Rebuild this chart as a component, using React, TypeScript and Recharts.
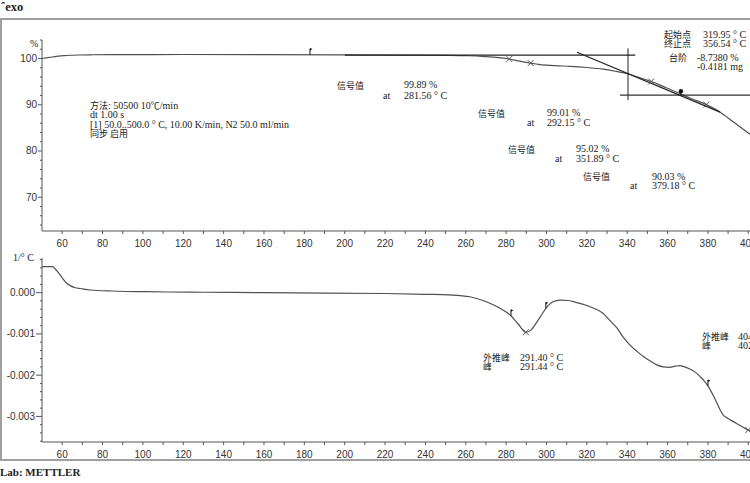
import React from "react";
import { LineChart, Line, XAxis, YAxis, ReferenceLine, ReferenceDot } from "recharts";

// ---------- data ----------
const tgaTemp = [50, 52, 55, 58, 61, 64, 68, 75, 90, 120, 160, 200, 230, 250, 260, 268, 275, 281.56, 286, 292.15, 296, 300, 306, 312, 320, 328, 334, 340, 346, 351.89, 358, 362, 366.6, 372, 379.18, 384, 388, 392, 396, 400.85];
const tgaPct = [100.0, 100.13, 100.32, 100.5, 100.62, 100.7, 100.76, 100.81, 100.85, 100.86, 100.85, 100.8, 100.74, 100.67, 100.6, 100.48, 100.26, 99.89, 99.5, 99.01, 98.72, 98.55, 98.42, 98.3, 98.05, 97.7, 97.25, 96.7, 95.9, 95.02, 93.92, 93.2, 92.3, 91.3, 90.03, 88.95, 87.8, 86.5, 85.2, 83.6];

const dtgTemp = [50, 55.3, 56.5, 58, 59, 60.5, 62, 64, 66.5, 69, 74, 85, 99, 112, 130, 160, 190, 220, 240, 252, 262, 268.5, 273, 277, 282.4, 286, 289.8, 292, 294.3, 297, 299.7, 303.2, 306.7, 311, 315, 321.6, 328, 331.5, 335, 338, 341.4, 345, 348, 351.5, 354.7, 358, 361, 364, 366, 368.5, 371, 373.5, 376, 378, 380, 382.5, 384.5, 386, 387.5, 390, 392.4, 396, 399.4, 400.85];
const dtgRate = [0.00063, 0.00063, 0.00058, 0.00049, 0.00043, 0.00033, 0.00024, 0.00017, 0.00012, 0.0001, 0.000065, 0.00004, 0.000025, 0.000016, 0.00001, 0.0, -0.00001, -0.00002, -0.00004, -0.000056, -0.0001, -0.00019, -0.00028, -0.00038, -0.00056, -0.00076, -0.00096, -0.00092, -0.00078, -0.00058, -0.00038, -0.00022, -0.00018, -0.00019, -0.00024, -0.00034, -0.0005, -0.00068, -0.00086, -0.00108, -0.00127, -0.00143, -0.00155, -0.00166, -0.00175, -0.0018, -0.00181, -0.00178, -0.00177, -0.0018, -0.00185, -0.00192, -0.00203, -0.00213, -0.00226, -0.00248, -0.00268, -0.00284, -0.00296, -0.00305, -0.00312, -0.00322, -0.00332, -0.00335];

const tempTicks = [60, 70, 80, 90, 100, 110, 120, 130, 140, 150, 160, 170, 180, 190, 200, 210, 220, 230, 240, 250, 260, 270, 280, 290, 300, 310, 320, 330, 340, 350, 360, 370, 380, 390, 400];
const tgaTicks = [64, 66, 68, 70, 72, 74, 76, 78, 80, 82, 84, 86, 88, 90, 92, 94, 96, 98, 100, 102, 104];
const tgaTickLabels = [70, 80, 90, 100];
const dtgTicks = [0.0008, 0.0006, 0.0004, 0.0002, 0, -0.0002, -0.0004, -0.0006, -0.0008, -0.001, -0.0012, -0.0014, -0.0016, -0.0018, -0.002, -0.0022, -0.0024, -0.0026, -0.0028, -0.003, -0.0032, -0.0034, -0.0036];
const dtgTickLabels = [0, -0.001, -0.002, -0.003];

// evaluation markers
const tgaCrossT = [281.56, 292.15, 351.89, 379.18];
const tgaCrossV = [99.89, 99.01, 95.02, 90.03];
const tgaFlagT = [182.8];
const tgaFlagV = [100.84];
const dtgFlagT = [282.4, 299.7, 380];
const dtgFlagV = [-0.00056, -0.00038, -0.00226];
const dtgCrossT = [289.8, 400];
const dtgCrossV = [-0.00096, -0.00333];

// step evaluation construction lines (°C, %)
const baseLeft = [{ x: 200.1, y: 100.72 }, { x: 344, y: 100.72 }];
const limitLine = [{ x: 340.4, y: 102.2 }, { x: 340.4, y: 91.0 }];
const baseRight = [{ x: 336.4, y: 92.08 }, { x: 400.85, y: 92.08 }];
const tangentLine = [{ x: 315.1, y: 101.36 }, { x: 386, y: 88.4 }];
const endDotT = 366.6;
const endDotV = 92.08;

const tgaData = tgaTemp.map((t, i) => ({ t, v: tgaPct[i] }));
const dtgData = dtgTemp.map((t, i) => ({ t, v: dtgRate[i] }));

// ---------- styles ----------
const AXIS = "#555";
const CURVE = "#505050";
const TXT = "#222";
const SERIF = "'Liberation Serif', 'Noto Sans CJK SC', serif";
const CJK = "'Noto Sans CJK SC', sans-serif";
const TICKFONT = "'Liberation Sans', sans-serif";

const XTick = (props: any) => {
  const { x, y, payload } = props;
  const v = payload.value;
  return (
    <g>
      <line x1={x} x2={x} y1={y} y2={y + 3} stroke={AXIS} />
      {v % 20 === 0 && (
        <text x={x} y={y + 15.5} textAnchor="middle" fontSize={10} fill="#333" fontFamily={TICKFONT}>
          {v}
        </text>
      )}
    </g>
  );
};

const makeYTick = (labels: number[], fmt: (v: number) => string, len: number, gap: number) => (props: any) => {
  const { x, y, payload } = props;
  const v = payload.value;
  const major = labels.some((l) => Math.abs(l - v) < 1e-9);
  return (
    <g>
      <line x1={x} x2={x - (major ? len : 2)} y1={y} y2={y} stroke={AXIS} />
      {major && (
        <text x={x - gap} y={y + 3.5} textAnchor="end" fontSize={10} fill="#333" fontFamily={TICKFONT}>
          {fmt(v)}
        </text>
      )}
    </g>
  );
};

const TgaYTick = makeYTick(tgaTickLabels, (v) => String(v), 4, 5);
const DtgYTick = makeYTick(dtgTickLabels, (v) => (Math.abs(v) < 1e-12 ? "0.000" : v.toFixed(3)), 6, 7);

const Flag = (p: any) => {
  const { cx, cy } = p;
  return (
    <g>
      <line x1={cx} x2={cx} y1={cy} y2={cy - 6} stroke="#111" strokeWidth={1} />
      <polygon points={`${cx},${cy - 6.5} ${cx + 2.5},${cy - 5.5} ${cx},${cy - 4}`} fill="#111" />
    </g>
  );
};

const Cross = (p: any) => {
  const { cx, cy } = p;
  return (
    <g stroke="#555" strokeWidth={1}>
      <line x1={cx - 3} y1={cy - 3} x2={cx + 3} y2={cy + 3} />
      <line x1={cx - 3} y1={cy + 3} x2={cx + 3} y2={cy - 3} />
    </g>
  );
};

const EndDot = (p: any) => {
  const { cx, cy } = p;
  return (
    <g>
      <line x1={cx} x2={cx} y1={cy} y2={cy - 3} stroke="#111" />
      <circle cx={cx} cy={cy - 4} r={2.2} fill="#111" />
    </g>
  );
};

const T = (p: { x: number; y: number; children: React.ReactNode; cjk?: boolean; bold?: boolean; size?: number }) => (
  <text
    x={p.x}
    y={p.y}
    fontSize={p.size ?? (p.cjk ? 9 : 10)}
    fontFamily={p.cjk ? CJK : SERIF}
    fontWeight={p.bold ? "bold" : "normal"}
    fill={TXT}
  >
    {p.children}
  </text>
);

export default function App() {
  return (
    <div style={{ position: "absolute", left: 0, top: 0, width: 750, height: 483, overflow: "hidden", background: "#fff" }}>
      <div
        style={{
          position: "absolute",
          left: 0,
          top: 18,
          width: 770,
          height: 443,
          border: "2px solid #a0a0a0",
          borderRight: "none",
          boxSizing: "border-box",
        }}
      />
      <div style={{ position: "absolute", left: 0, top: 0 }}>
        <LineChart width={750} height={250} data={tgaData} margin={{ top: 40, right: 0, bottom: 0, left: 0 }}>
          <XAxis
            dataKey="t"
            type="number"
            domain={[50, 400.85]}
            allowDataOverflow
            ticks={tempTicks}
            interval={0}
            tick={XTick}
            tickLine={false}
            tickSize={0}
            tickMargin={0}
            height={19}
            axisLine={{ stroke: AXIS }}
          />
          <YAxis
            type="number"
            domain={[62.7, 104]}
            allowDataOverflow
            ticks={tgaTicks}
            interval={0}
            tick={TgaYTick}
            tickLine={false}
            tickSize={0}
            tickMargin={0}
            width={42}
            axisLine={{ stroke: AXIS }}
          />
          <Line dataKey="v" type="monotone" dot={false} stroke={CURVE} strokeWidth={1.2} isAnimationActive={false} />
          <ReferenceLine segment={baseLeft} stroke="#222" strokeWidth={1.2} />
          <ReferenceLine segment={limitLine} stroke="#222" strokeWidth={1} />
          <ReferenceLine segment={baseRight} stroke="#333" strokeWidth={1.2} />
          <ReferenceLine segment={tangentLine} stroke="#222" strokeWidth={1.2} />
          {tgaCrossT.map((t, i) => (
            <ReferenceDot key={"c" + i} x={t} y={tgaCrossV[i]} r={3} shape={Cross} />
          ))}
          {tgaFlagT.map((t, i) => (
            <ReferenceDot key={"f" + i} x={t} y={tgaFlagV[i]} r={3} shape={Flag} />
          ))}
          <ReferenceDot x={endDotT} y={endDotV} r={3} shape={EndDot} />
        </LineChart>
      </div>
      <div style={{ position: "absolute", left: 0, top: 245 }}>
        <LineChart width={750} height={215} data={dtgData} margin={{ top: 13, right: 0, bottom: 0, left: 0 }}>
          <XAxis
            dataKey="t"
            type="number"
            domain={[50, 400.85]}
            allowDataOverflow
            ticks={tempTicks}
            interval={0}
            tick={XTick}
            tickLine={false}
            tickSize={0}
            tickMargin={0}
            height={18}
            axisLine={{ stroke: AXIS }}
          />
          <YAxis
            type="number"
            domain={[-0.00362, 0.00084]}
            allowDataOverflow
            ticks={dtgTicks}
            interval={0}
            tick={DtgYTick}
            tickLine={false}
            tickSize={0}
            tickMargin={0}
            width={42}
            axisLine={{ stroke: AXIS }}
          />
          <Line dataKey="v" type="monotone" dot={false} stroke={CURVE} strokeWidth={1.2} isAnimationActive={false} />
          {dtgFlagT.map((t, i) => (
            <ReferenceDot key={"f" + i} x={t} y={dtgFlagV[i]} r={3} shape={Flag} />
          ))}
          {dtgCrossT.map((t, i) => (
            <ReferenceDot key={"c" + i} x={t} y={dtgCrossV[i]} r={3} shape={Cross} />
          ))}
        </LineChart>
      </div>
      <svg width={750} height={483} style={{ position: "absolute", left: 0, top: 0, pointerEvents: "none" }}>
        <T x={1} y={11} bold size={12.5}>ˆexo</T>
        <T x={30} y={46.5} size={10}>%</T>
        <text x={90} y={108.5} fontSize={10} fontFamily={SERIF} fill={TXT}>
          <tspan fontFamily={CJK} fontSize={9}>方法</tspan>: 50500 10<tspan fontFamily={CJK} fontSize={9}>℃</tspan>/min
        </text>
        <T x={90} y={118}>dt 1.00 s</T>
        <T x={90} y={127.5}>[1] 50.0..500.0 ° C, 10.00 K/min, N2 50.0 ml/min</T>
        <T x={90} y={137} cjk>同步 启用</T>

        <T x={337} y={88.5} cjk>信号值</T>
        <T x={404} y={88}>99.89 %</T>
        <T x={383} y={98.5}>at</T>
        <T x={404} y={98.5}>281.56 ° C</T>

        <T x={478} y={116.5} cjk>信号值</T>
        <T x={547} y={116}>99.01 %</T>
        <T x={527} y={126}>at</T>
        <T x={547} y={126}>292.15 ° C</T>

        <T x={508} y={152.5} cjk>信号值</T>
        <T x={576} y={152}>95.02 %</T>
        <T x={555} y={162}>at</T>
        <T x={576} y={162}>351.89 ° C</T>

        <T x={583} y={180} cjk>信号值</T>
        <T x={652} y={179.5}>90.03 %</T>
        <T x={630} y={189}>at</T>
        <T x={652} y={189}>379.18 ° C</T>

        <T x={664} y={37.5} cjk>起始点</T>
        <T x={703} y={37.5}>319.95 ° C</T>
        <T x={664} y={46.5} cjk>终止点</T>
        <T x={703} y={46.5}>356.54 ° C</T>
        <T x={669} y={60.5} cjk>台阶</T>
        <T x={697} y={60.5}>-8.7380 %</T>
        <T x={697} y={69.5}>-0.4181 mg</T>

        <T x={13} y={261} size={10}>1/° C</T>

        <T x={483} y={360.5} cjk>外推峰</T>
        <T x={520} y={360.5}>291.40 ° C</T>
        <T x={483} y={369.5} cjk>峰</T>
        <T x={520} y={369.5}>291.44 ° C</T>

        <T x={702} y={340} cjk>外推峰</T>
        <T x={738} y={340}>404.38 ° C</T>
        <T x={702} y={349} cjk>峰</T>
        <T x={738} y={349}>402.60 ° C</T>

        <T x={0} y={476} bold size={11}>Lab: METTLER</T>
      </svg>
    </div>
  );
}
